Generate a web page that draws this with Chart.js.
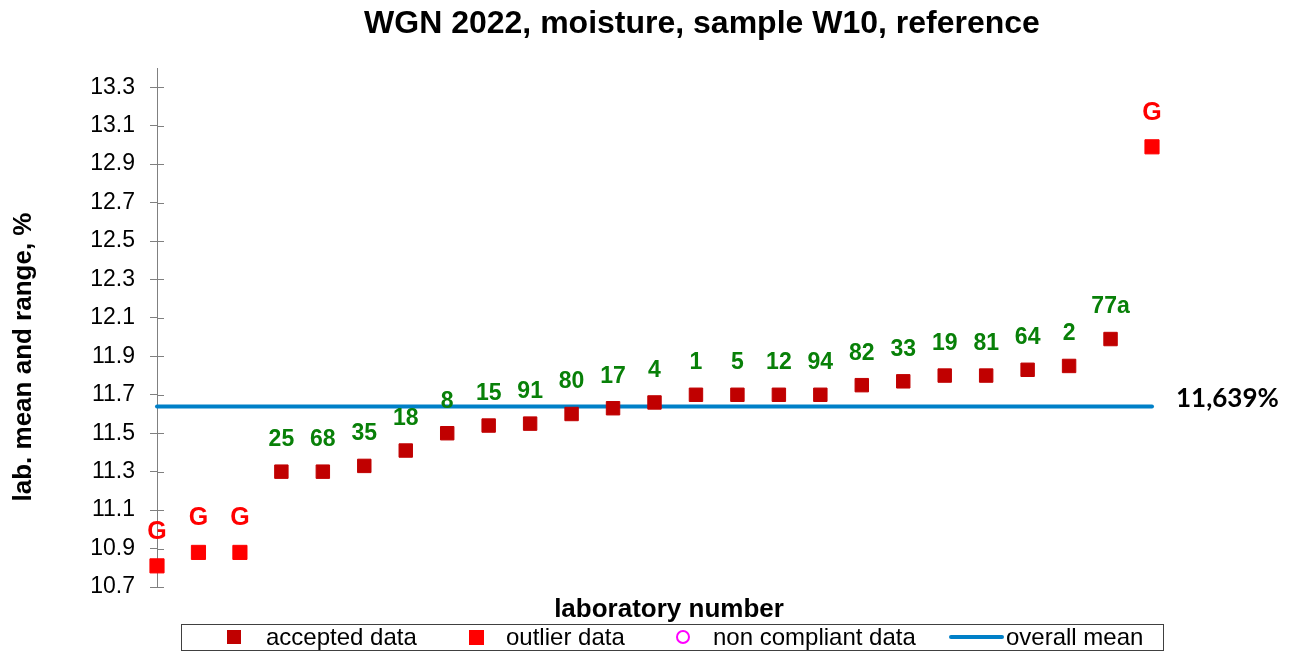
<!DOCTYPE html>
<html>
<head>
<meta charset="utf-8">
<title>WGN 2022, moisture, sample W10</title>
<script src="https://cdn.jsdelivr.net/npm/chart.js@4/dist/chart.umd.min.js"></script>
<style>
  html, body { margin: 0; padding: 0; background: #fff; }
  #wrap { width: 1304px; height: 653px; position: relative; }
</style>
</head>
<body>
<div id="wrap"><canvas id="myChart" width="1304" height="653"></canvas></div>
<script>
// labels shown above each point, sorted by lab mean
const pointLabels = ['G', 'G', 'G', '25', '68', '35', '18', '8', '15', '91', '80', '17', '4',
  '1', '5', '12', '94', '82', '33', '19', '81', '64', '2', '77a', 'G'];
// lab means, %
const labMeans = [10.81, 10.88, 10.88, 11.30, 11.30, 11.33, 11.41, 11.50, 11.54, 11.55, 11.60, 11.63, 11.66,
  11.70, 11.70, 11.70, 11.70, 11.75, 11.77, 11.80, 11.80, 11.83, 11.85, 11.99, 12.99];
// A = accepted, G = outlier (Grubbs)
const labStatus = ['G', 'G', 'G', 'A', 'A', 'A', 'A', 'A', 'A', 'A', 'A', 'A', 'A',
  'A', 'A', 'A', 'A', 'A', 'A', 'A', 'A', 'A', 'A', 'A', 'G'];
const overallMean = 11.639;
const yTicks = [10.7, 10.9, 11.1, 11.3, 11.5, 11.7, 11.9, 12.1, 12.3, 12.5, 12.7, 12.9, 13.1, 13.3];

const accepted = [];
const outliers = [];
labMeans.forEach(function (v, i) {
  const p = { x: i + 1, y: v };
  if (labStatus[i] === 'G') outliers.push(p); else accepted.push(p);
});

const AXIS_W = 157;

const extras = {
  id: 'extras',
  afterDraw: function (chart) {
    const ctx = chart.ctx;
    const xs = chart.scales.x;
    const ys = chart.scales.y;
    ctx.save();

    // inner half of the y ticks
    ctx.strokeStyle = '#808080';
    ctx.lineWidth = 1;
    yTicks.forEach(function (t) {
      const py = Math.round(ys.getPixelForValue(t)) + 0.5;
      ctx.beginPath();
      ctx.moveTo(xs.left, py);
      ctx.lineTo(xs.left + 7, py);
      ctx.stroke();
    });

    // point labels
    ctx.textAlign = 'center';
    ctx.textBaseline = 'middle';
    labMeans.forEach(function (v, i) {
      const px = xs.getPixelForValue(i + 1);
      const py = ys.getPixelForValue(v);
      if (labStatus[i] === 'G') {
        ctx.fillStyle = '#FF0000';
        ctx.font = 'bold 25px "Liberation Sans", Arial, sans-serif';
        ctx.fillText(pointLabels[i], px, py - 34);
      } else {
        ctx.fillStyle = '#088008';
        ctx.font = 'bold 23px "Liberation Sans", Arial, sans-serif';
        ctx.fillText(pointLabels[i], px, py - 32);
      }
    });

    // mean value label
    ctx.textAlign = 'left';
    ctx.fillStyle = '#000';
    ctx.font = 'bold 26px Lato, "Open Sans", sans-serif';
    ctx.fillText(overallMean.toFixed(3).replace('.', ',') + '%', 1176, ys.getPixelForValue(overallMean) - 8);

    // title
    ctx.textAlign = 'center';
    ctx.textBaseline = 'alphabetic';
    ctx.font = 'bold 32px "Liberation Sans", Arial, sans-serif';
    ctx.fillText('WGN 2022, moisture, sample W10, reference', 702, 33);

    // x axis title
    ctx.font = 'bold 26px "Liberation Sans", Arial, sans-serif';
    ctx.fillText('laboratory number', 669, 617);

    // y axis title
    ctx.save();
    ctx.translate(31, 357);
    ctx.rotate(-Math.PI / 2);
    ctx.font = 'bold 26px "Liberation Sans", Arial, sans-serif';
    ctx.fillText('lab. mean and range, %', 0, 0);
    ctx.restore();

    // legend
    ctx.strokeStyle = '#404040';
    ctx.lineWidth = 1;
    ctx.strokeRect(181.5, 624.5, 982, 26);
    ctx.font = '24px "Liberation Sans", Arial, sans-serif';
    ctx.textAlign = 'left';
    const ly = 637;
    const ds = chart.data.datasets;
    ctx.fillStyle = ds[0].backgroundColor;
    ctx.fillRect(227, ly - 7, 14, 14);
    ctx.fillStyle = '#000';
    ctx.fillText(ds[0].label, 266, 645);
    ctx.fillStyle = ds[1].backgroundColor;
    ctx.fillRect(469, ly - 7, 15, 15);
    ctx.fillStyle = '#000';
    ctx.fillText(ds[1].label, 506, 645);
    ctx.strokeStyle = ds[2].borderColor;
    ctx.lineWidth = 2;
    ctx.beginPath();
    ctx.arc(683, ly, 6, 0, Math.PI * 2);
    ctx.stroke();
    ctx.fillText(ds[2].label, 713, 645);
    ctx.strokeStyle = ds[3].borderColor;
    ctx.lineWidth = 4;
    ctx.lineCap = 'round';
    ctx.beginPath();
    ctx.moveTo(951, ly);
    ctx.lineTo(1002, ly);
    ctx.stroke();
    ctx.fillText(ds[3].label, 1006, 645);

    ctx.restore();
  }
};

const ctx = document.getElementById('myChart').getContext('2d');
const chart = new Chart(ctx, {
  type: 'scatter',
  data: {
    datasets: [
      {
        label: 'accepted data',
        data: accepted,
        pointStyle: 'rect',
        pointRadius: 9.5,
        borderWidth: 1,
        backgroundColor: '#C00000',
        borderColor: '#C00000',
        clip: false,
        order: 1,
      },
      {
        label: 'outlier data',
        data: outliers,
        pointStyle: 'rect',
        pointRadius: 10,
        borderWidth: 1,
        backgroundColor: '#FF0000',
        borderColor: '#FF0000',
        clip: false,
        order: 1,
      },
      {
        label: 'non compliant data',
        data: [],
        pointStyle: 'circle',
        backgroundColor: 'rgba(0,0,0,0)',
        borderColor: '#FF00FF',
      },
      {
        label: 'overall mean',
        type: 'line',
        data: [{ x: 1, y: overallMean }, { x: labMeans.length, y: overallMean }],
        borderColor: '#0080C8',
        borderWidth: 4,
        pointRadius: 0,
        borderCapStyle: 'round',
        clip: false,
        order: 2,
      },
    ],
  },
  options: {
    responsive: false,
    animation: false,
    layout: {
      padding: { top: 68, bottom: 66, left: 0, right: 152 },
    },
    plugins: {
      legend: { display: false },
      title: { display: false },
      tooltip: { enabled: false },
    },
    scales: {
      x: {
        type: 'linear',
        display: false,
        min: 1,
        max: labMeans.length,
      },
      y: {
        min: 10.7,
        max: 13.4,
        afterBuildTicks: function (scale) {
          scale.ticks = yTicks.map(function (v) { return { value: v }; });
        },
        afterFit: function (scale) {
          scale.width = AXIS_W;
        },
        border: { display: true, color: '#808080', width: 1 },
        grid: {
          drawOnChartArea: false,
          drawTicks: true,
          tickLength: 7,
          color: '#808080',
        },
        ticks: {
          padding: 15,
          color: '#000',
          font: { family: '"Liberation Sans", Arial, sans-serif', size: 23 },
          callback: function (v) { return Number(v).toFixed(1); },
        },
      },
    },
  },
  plugins: [extras],
});
</script>
</body>
</html>
